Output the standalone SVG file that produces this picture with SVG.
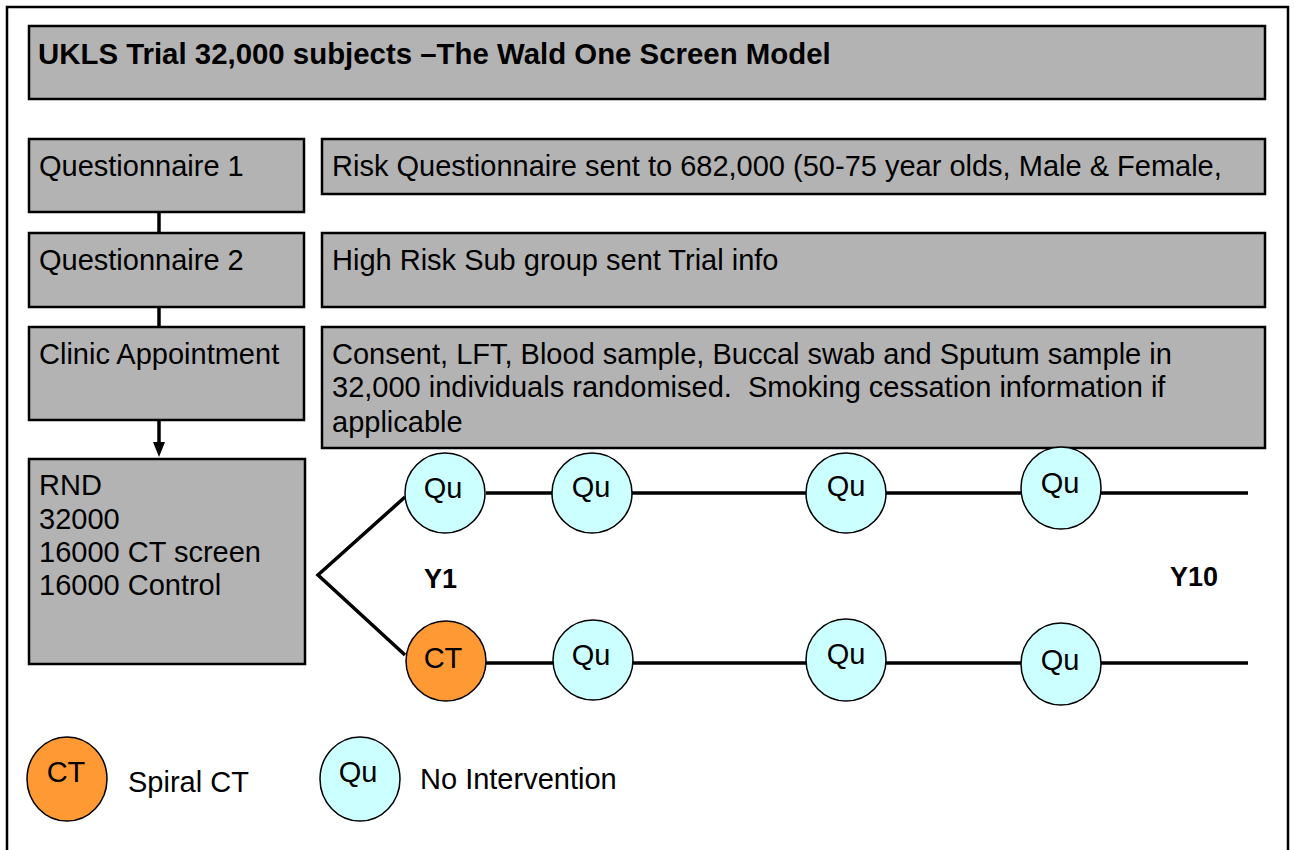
<svg xmlns="http://www.w3.org/2000/svg" width="1294" height="850" viewBox="0 0 1294 850">
<defs>
<style>
.box{fill:#B3B3B3;stroke:#000;stroke-width:2.5}
.t{font-family:"Liberation Sans",Arial,sans-serif;font-size:29px;fill:#000}
.b{font-weight:bold}
.qu{fill:#CCFFFF;stroke:#000;stroke-width:1.5}
.ct{fill:#FF9933;stroke:#000;stroke-width:1.5}
.ln{stroke:#000;stroke-width:3.5;fill:none}
.c{text-anchor:middle}
</style>
</defs>
<rect width="1294" height="850" fill="#fff"/>
<rect x="7" y="7" width="1281" height="860" fill="none" stroke="#000" stroke-width="2.5"/>

<g id="title">
<rect class="box" x="29" y="26" width="1236" height="73"/>
<text class="t b" x="38" y="64" style="font-size:29.4px">UKLS Trial 32,000 subjects –The Wald One Screen Model</text>
</g>

<g id="connectors">
<line class="ln" x1="159" y1="212" x2="159" y2="233"/>
<line class="ln" x1="159" y1="307" x2="159" y2="327"/>
<line class="ln" x1="159" y1="420" x2="159" y2="443"/>
<polygon points="153,442 165,442 159,457" fill="#000"/>
<polyline class="ln" points="405,497 318,575 405,655"/>
<line class="ln" x1="486" y1="493" x2="1248" y2="493"/>
<line class="ln" x1="486" y1="663" x2="1248" y2="663"/>
</g>

<g id="q1">
<rect class="box" x="29" y="139" width="275" height="73"/>
<text class="t" x="39" y="176">Questionnaire 1</text>
</g>
<g id="q2">
<rect class="box" x="29" y="233" width="275" height="74"/>
<text class="t" x="39" y="270">Questionnaire 2</text>
</g>
<g id="clinic">
<rect class="box" x="29" y="327" width="275" height="93"/>
<text class="t" x="39" y="364">Clinic Appointment</text>
</g>
<g id="rnd">
<rect class="box" x="29" y="459" width="276" height="205"/>
<text class="t" x="39" y="495">RND</text>
<text class="t" x="39" y="529">32000</text>
<text class="t" x="39" y="562">16000 CT screen</text>
<text class="t" x="39" y="595">16000 Control</text>
</g>
<g id="risk">
<rect class="box" x="322" y="139" width="943" height="55"/>
<text class="t" x="332" y="176">Risk Questionnaire sent to 682,000 (50-75 year olds, Male &amp; Female,</text>
</g>
<g id="highrisk">
<rect class="box" x="322" y="233" width="943" height="74"/>
<text class="t" x="332" y="270">High Risk Sub group sent Trial info</text>
</g>
<g id="consent">
<rect class="box" x="322" y="327" width="943" height="121"/>
<text class="t" x="332" y="364">Consent, LFT, Blood sample, Buccal swab and Sputum sample in</text>
<text class="t" x="332" y="397" xml:space="preserve">32,000 individuals randomised.  Smoking cessation information if</text>
<text class="t" x="332" y="432">applicable</text>
</g>

<g id="top1"><circle class="qu" cx="445" cy="493" r="40"/><text class="t c" x="443" y="498">Qu</text></g>
<g id="top2"><circle class="qu" cx="592" cy="493" r="40"/><text class="t c" x="591" y="497">Qu</text></g>
<g id="top3"><ellipse class="qu" cx="846" cy="493" rx="40" ry="40"/><text class="t c" x="846" y="496">Qu</text></g>
<g id="top4"><ellipse class="qu" cx="1061" cy="488" rx="40" ry="41"/><text class="t c" x="1060" y="493">Qu</text></g>

<g id="bot1"><circle class="ct" cx="446" cy="661" r="40"/><text class="t c" x="443" y="668">CT</text></g>
<g id="bot2"><circle class="qu" cx="593" cy="660" r="40"/><text class="t c" x="591" y="665">Qu</text></g>
<g id="bot3"><ellipse class="qu" cx="846" cy="660" rx="40" ry="41"/><text class="t c" x="846" y="664">Qu</text></g>
<g id="bot4"><ellipse class="qu" cx="1061" cy="664" rx="40" ry="41"/><text class="t c" x="1060" y="670">Qu</text></g>

<text class="t b" x="424" y="588" style="font-size:27px">Y1</text>
<text class="t b" x="1170" y="586" style="font-size:27px">Y10</text>

<g id="legend-ct">
<ellipse class="ct" cx="67" cy="779" rx="40" ry="42"/>
<text class="t c" x="66" y="782">CT</text>
<text class="t" x="128" y="792">Spiral CT</text>
</g>
<g id="legend-qu">
<ellipse class="qu" cx="360" cy="779" rx="40" ry="42"/>
<text class="t c" x="358" y="782">Qu</text>
<text class="t" x="420" y="789">No Intervention</text>
</g>
</svg>
